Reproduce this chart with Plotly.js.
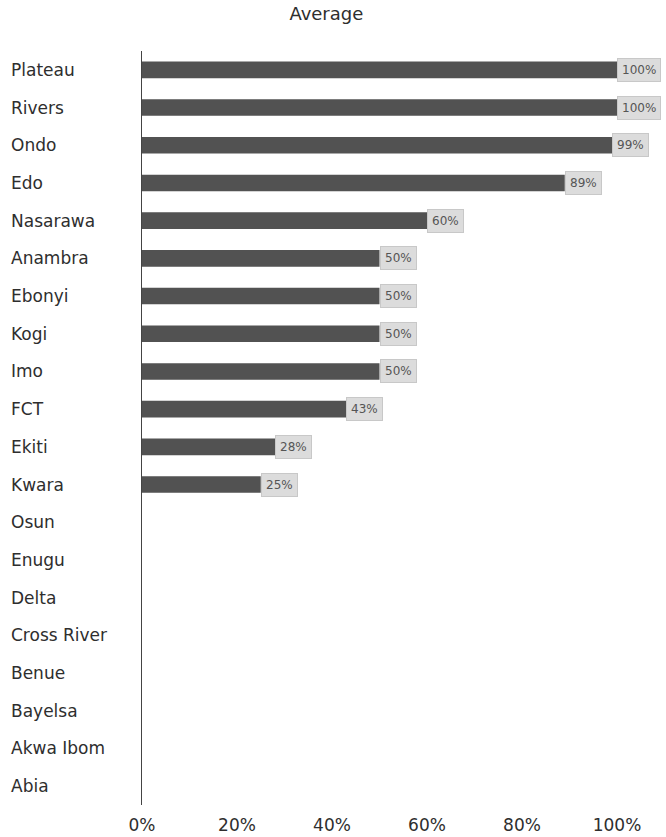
<!DOCTYPE html>
<html><head><meta charset="utf-8">
<script src="https://cdn.plot.ly/plotly-3.0.1.min.js"></script>
<style>html,body{margin:0;padding:0;background:#fff}#chart{width:666px;height:837px}</style>
</head><body><div id="chart"></div>
<script>
var states = ["Plateau","Rivers","Ondo","Edo","Nasarawa","Anambra","Ebonyi","Kogi","Imo","FCT","Ekiti","Kwara","Osun","Enugu","Delta","Cross River","Benue","Bayelsa","Akwa Ibom","Abia"];
var averages = [100,100,99,89,60,50,50,50,50,43,28,25,0,0,0,0,0,0,0,0];
var tickVals = [0,20,40,60,80,100];
var tickText = ["0%","20%","40%","60%","80%","100%"];

var F = 'DejaVu Sans, Liberation Sans, Arial, sans-serif';
var annotations = [];
states.forEach(function(s, i){
  annotations.push({xref:'paper', yref:'y', x:-0.279, y:s, xanchor:'left', yanchor:'middle',
    text:s, showarrow:false, font:{family:F, size:17, color:'#2e2e2e'}});
  if (averages[i] > 0) {
    annotations.push({xref:'x', yref:'y', x:averages[i], y:s, xanchor:'left', yanchor:'middle',
      text:averages[i]+'%', showarrow:false, bgcolor:'#dcdcdc', bordercolor:'#c8c8c8', borderwidth:1, borderpad:4,
      font:{family:F, size:12, color:'#555'}});
  }
});

var trace = {type:'bar', orientation:'h', y:states, x:averages, marker:{color:'#525252'}, hoverinfo:'none'};
var layout = {
  width:666, height:837, paper_bgcolor:'#fff', plot_bgcolor:'#fff',
  margin:{l:142, r:49, t:51, b:32},
  title:{text:'Average', x:0.49, xref:'container', y:0.984, yanchor:'middle', font:{family:F, size:18, color:'#2e2e2e'}},
  bargap:0.56, showlegend:false,
  xaxis:{range:[0,100], tickvals:tickVals, ticktext:tickText, showgrid:false, zeroline:false, showline:false, ticks:'',
    ticklabelstandoff:8, tickfont:{family:F, size:17, color:'#2e2e2e'}},
  yaxis:{autorange:'reversed', showticklabels:false, showgrid:false, zeroline:false, showline:true, linecolor:'#444', linewidth:1, ticks:''},
  annotations:annotations
};
Plotly.newPlot('chart',[trace],layout,{staticPlot:true});
</script></body></html>
